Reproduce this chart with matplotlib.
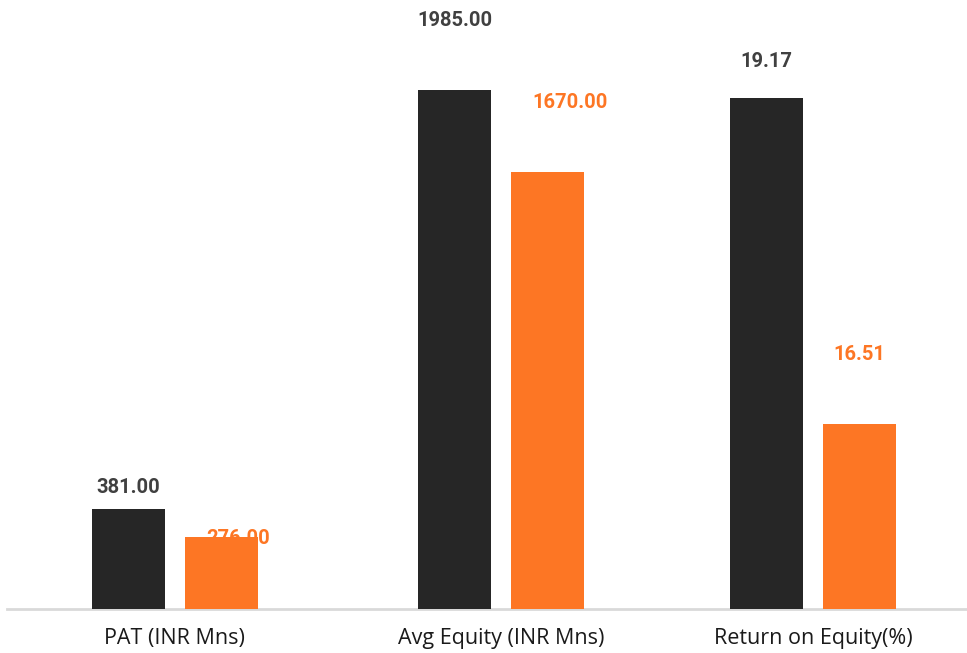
import matplotlib
matplotlib.use("Agg")
import matplotlib.pyplot as plt

categories = ["PAT (INR Mns)", "Avg Equity (INR Mns)", "Return on Equity(%)"]
series_a = [381.00, 1985.00, 19.17]   # dark series
series_b = [276.00, 1670.00, 16.51]   # orange series
secondary = [False, False, True]      # ROE plotted on its own scale

DARK = "#262626"
ORANGE = "#FD7624"
LBL_DARK = "#404040"

fig = plt.figure(figsize=(9.67, 6.53), dpi=100)
ax = fig.add_axes([7/967, 1 - 609/653, 960/967, 609/653])
ax2 = ax.twinx()

group_x = [0.0, 1.0, 1.957]
off = 0.1426
width = 0.224

ax.set_xlim(-0.515, 2.429)
ax.set_ylim(0, 2329)
ax2.set_ylim(15, 19.97)

# label offsets in points (dx, dy) above bar top
lab_off_a = [(0, 16), (0, 50), (0, 26)]
lab_off_b = [(12, -1), (16, 50), (0, 50)]

for i, cat in enumerate(categories):
    tgt = ax2 if secondary[i] else ax
    base = 15 if secondary[i] else 0
    xa = group_x[i] - off
    xb = group_x[i] + off
    tgt.bar(xa, series_a[i] - base, bottom=base, width=width, color=DARK, zorder=3)
    tgt.annotate(f"{series_a[i]:.2f}", (xa, series_a[i]), xytext=lab_off_a[i],
                 textcoords="offset points", ha="center", va="center",
                 fontsize=14.5, fontweight="bold", color=LBL_DARK,
                 family="Roboto", zorder=2)
    tgt.bar(xb, series_b[i] - base, bottom=base, width=width, color=ORANGE, zorder=3)
    tgt.annotate(f"{series_b[i]:.2f}", (xb, series_b[i]), xytext=lab_off_b[i],
                 textcoords="offset points", ha="center", va="center",
                 fontsize=14.5, fontweight="bold", color=ORANGE,
                 family="Roboto", zorder=2)

for a in (ax, ax2):
    for s in ("top", "right", "left"):
        a.spines[s].set_visible(False)
    a.set_yticks([])
    a.tick_params(axis="x", length=0)
ax2.spines["bottom"].set_visible(False)
ax.spines["bottom"].set_color("#D9D9D9")
ax.spines["bottom"].set_linewidth(2)

ax.set_xticks(group_x)
ax.set_xticklabels(categories, fontsize=15.5, color="#1a1a1a", family="Open Sans")
ax.tick_params(axis="x", pad=14)

fig.savefig("out.png", dpi=100)
